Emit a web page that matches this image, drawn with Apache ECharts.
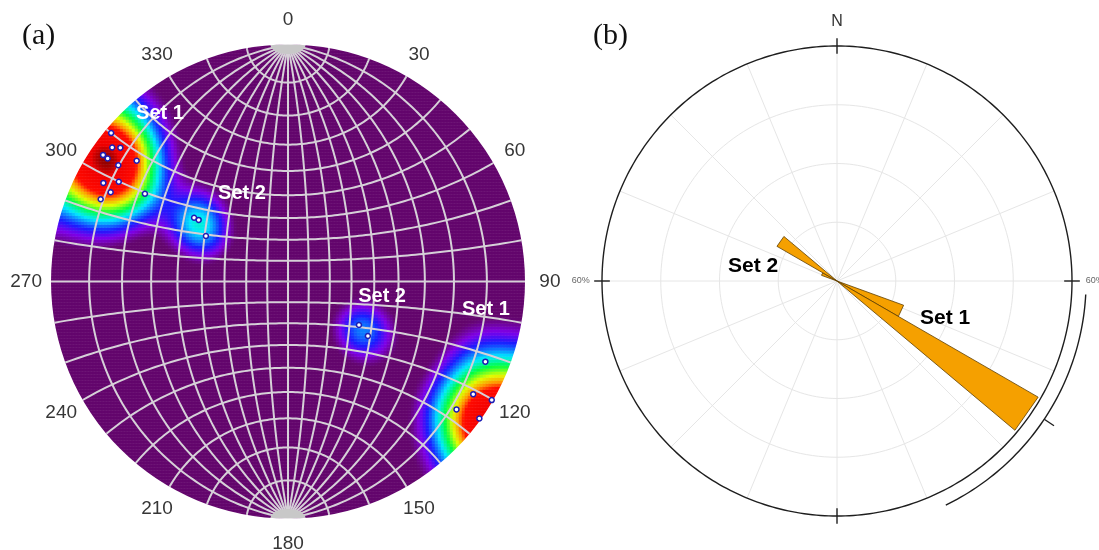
<!DOCTYPE html>
<html><head><meta charset="utf-8">
<script src="https://cdn.jsdelivr.net/npm/echarts@6/dist/echarts.min.js"></script>
<style>html,body{margin:0;padding:0;background:#fff}#c{width:1099px;height:550px}</style>
</head><body><div id="c"></div>
<script>
// ---------- DATA ----------
// (a) poles to joints, [trend, plunge] in degrees (lower hemisphere)
const set1Poles = [[310,1.5],[307.3,4.0],[308.6,5.7],[304.4,3.2],[304.3,4.7],[304.4,8.1],[308.6,11.5],[298.1,7.1],[300.5,10.7],[296.7,10.1],[293.7,8.4],[301.5,19.4],
                   [112.1,6.1],[121.3,5.1],[120.2,0.3],[127.2,6.5],[125.6,0.4]];
const set2Poles = [[304.2,38.8],[304.6,40.8],[299.0,46.8],[121.5,51.3],[124.3,45.6]];
const netTickLabels = ['0','30','60','90','120','150','180','210','240','270','300','330'];
const netTickAngles = [0,30,60,90,120,150,180,210,240,270,300,330];
const netSetLabels = ['Set 1','Set 2','Set 2','Set 1'];
// (b) rose diagram: bin start/end azimuth and percentage
const roseBinStart = [110, 120, 290, 300];
const roseBinEnd   = [120, 130, 300, 310];
const roseValues   = [18.1, 59.3, 4.2, 17.7];
const roseRings = [15, 30, 45];
const roseMax = 60;
const roseScaleLabel = '60%';
const set1Mean = 123.7, set1Spread = 30.6;

// ---------- helpers ----------
const D = Math.PI/180;
function proj(lambda, phi){ // Wulff net, polar axis N-S
  const l=lambda*D, p=phi*D, den=1+Math.cos(p)*Math.cos(l);
  return [Math.cos(p)*Math.sin(l)/den, Math.sin(p)/den];
}
function poleXY(t,p){ const r=Math.tan((90-p)*D/2); return [r*Math.sin(t*D), r*Math.cos(t*D)]; }
function vec(t,p){ const T=t*D,P=p*D; return [Math.cos(P)*Math.sin(T),Math.cos(P)*Math.cos(T),Math.sin(P)]; }

// net lines
const netLines = [];
for (let lam=-80; lam<=80; lam+=10){ const c=[]; for(let ph=-90; ph<=90; ph+=1) c.push(proj(lam,ph)); netLines.push({coords:c}); }
for (let ph=-80; ph<=80; ph+=10){ const c=[]; for(let lam=-90; lam<=90; lam+=1.5) c.push(proj(lam,ph)); netLines.push({coords:c}); }

// density (Fisher kernel, axial) from the poles
const allPoles = set1Poles.concat(set2Poles).map(a=>vec(a[0],a[1]));
const K = 62, N = 158;
const cats = Array.from({length:N},(_,i)=>i);
const heat = [];
let dmax = 0;
for (let i=0;i<N;i++) for (let j=0;j<N;j++){
  const X=-1+(2*i+1)/N, Y=-1+(2*j+1)/N, r2=X*X+Y*Y;
  if (r2>1.05) continue;
  const r=Math.sqrt(r2), phi=2*Math.atan(r), tau=Math.atan2(X,Y);
  const g=[Math.sin(phi)*Math.sin(tau),Math.sin(phi)*Math.cos(tau),Math.cos(phi)];
  let d=0; for (const p of allPoles){ const c=Math.abs(g[0]*p[0]+g[1]*p[1]+g[2]*p[2]); d+=Math.exp(K*(c-1)); }
  if (r2<=1) dmax=Math.max(dmax,d);
  heat.push([i,j,d]);
}
heat.forEach(h=>{ h[2]=Math.min(h[2],dmax); });
const stops = [[0,'#63056c'],[0.3,'#63056c'],[0.75,'#8000e8'],[1.3,'#1a1aff'],[1.9,'#0a8cff'],[2.4,'#00eaff'],
  [Math.max(3.3,0.34*dmax),'#00ff40'],[0.46*dmax,'#e0ff00'],[0.56*dmax,'#ff9a00'],[0.65*dmax,'#ff0a00'],[0.92*dmax,'#f00000'],[dmax,'#900000']];
function hex(c){return [parseInt(c.slice(1,3),16),parseInt(c.slice(3,5),16),parseInt(c.slice(5,7),16)];}
function ramp(n){ const out=[]; for(let k=0;k<n;k++){ const v=dmax*k/(n-1); let s=0; while(s<stops.length-2 && v>stops[s+1][0]) s++;
  const a=hex(stops[s][1]), b=hex(stops[s+1][1]); const t=Math.min(1,Math.max(0,(v-stops[s][0])/(stops[s+1][0]-stops[s][0])));
  out.push('rgb('+a.map((x,q)=>Math.round(x+(b[q]-x)*t)).join(',')+')'); } return out; }

// rose lines
const roseGrid = [];
for (let a=0; a<360; a+=22.5) roseGrid.push({coords:[[0,0],[roseMax*Math.sin(a*D),roseMax*Math.cos(a*D)]]});
for (const rr of roseRings){ const c=[]; for(let a=0;a<=360;a+=2) c.push([rr*Math.sin(a*D),rr*Math.cos(a*D)]); roseGrid.push({coords:c}); }
const roseBlack = [];
{ const c=[]; for(let a=0;a<=360;a+=1) c.push([roseMax*Math.sin(a*D),roseMax*Math.cos(a*D)]); roseBlack.push({coords:c}); }
for (let a=0;a<360;a+=90) roseBlack.push({coords:[[58*Math.sin(a*D),58*Math.cos(a*D)],[62*Math.sin(a*D),62*Math.cos(a*D)]]});
{ const c=[]; const ra=63.6; for(let a=set1Mean-set1Spread;a<=set1Mean+set1Spread+0.01;a+=1) c.push([ra*Math.sin(a*D),ra*Math.cos(a*D)]); roseBlack.push({coords:c});
  roseBlack.push({coords:[[63.6*Math.sin(set1Mean*D),63.6*Math.cos(set1Mean*D)],[66.6*Math.sin(set1Mean*D),66.6*Math.cos(set1Mean*D)]]}); }

const labelFont = '"Liberation Sans", Arial, sans-serif';
function textSeries(xi, items, z){
  return {type:'custom', xAxisIndex:xi, yAxisIndex:xi, z:z, silent:true, clip:false,
    data:items.map(it=>[it[0],it[1]]),
    renderItem:(p,api)=>{ const it=items[p.dataIndex]; const c=api.coord([api.value(0),api.value(1)]);
      return {type:'text', x:c[0], y:c[1], style:{text:it[2], fill:it[3], font:it[4], align:'center', verticalAlign:'middle', textAlign:'center', textVerticalAlign:'middle'}}; }};
}
const tickItems = netTickAngles.map((a,k)=>[1.105*Math.sin(a*D),1.105*Math.cos(a*D),netTickLabels[k],'#363636','19px '+labelFont]);
const setPosA = [[-0.540,0.707],[-0.194,0.373],[0.397,-0.065],[0.835,-0.118]];
const setItemsA = setPosA.map((p,k)=>[p[0],p[1],netSetLabels[k],'#ffffff','bold 20px '+labelFont]);
const roseItems = [[0,66.2,'N','#333333','16px '+labelFont],
  [27.6,-9.45,'Set 1','#000000','bold 21px '+labelFont],
  [-21.4,3.83,'Set 2','#000000','bold 21px '+labelFont],
  [-65.4,0,roseScaleLabel,'#666666','9px '+labelFont],
  [65.8,0,roseScaleLabel,'#666666','9px '+labelFont]];

const chart = echarts.init(document.getElementById('c'), null, {renderer:'canvas'});
chart.setOption({
  animation:false,
  backgroundColor:'#fff',
  grid:[
    {left:51, top:44.5, width:474, height:474},
    {left:51, top:44.5, width:474, height:474},
    {left:602, top:46, width:470, height:470}
  ],
  xAxis:[
    {type:'category', data:cats, gridIndex:0, show:false},
    {type:'value', min:-1, max:1, gridIndex:1, show:false},
    {type:'value', min:-60, max:60, gridIndex:2, show:false}
  ],
  yAxis:[
    {type:'category', data:cats, gridIndex:0, show:false},
    {type:'value', min:-1, max:1, gridIndex:1, show:false},
    {type:'value', min:-60, max:60, gridIndex:2, show:false}
  ],
  visualMap:{type:'continuous', min:0, max:dmax, seriesIndex:0, show:false, inRange:{color:ramp(160)}},
  graphic:[
    {type:'text', left:22, top:21, style:{text:'(a)', font:'30px "Liberation Serif", "Times New Roman", serif', fill:'#111'}},
    {type:'text', left:593, top:21, style:{text:'(b)', font:'30px "Liberation Serif", "Times New Roman", serif', fill:'#111'}}
  ],
  series:[
    {type:'heatmap', xAxisIndex:0, yAxisIndex:0, data:heat, z:1, silent:true, progressive:0, itemStyle:{borderWidth:0}},
    {type:'lines', coordinateSystem:'cartesian2d', xAxisIndex:1, yAxisIndex:1, polyline:true, z:2, silent:true, clip:false,
      lineStyle:{color:'#d6d0d8', width:2, opacity:1}, data:netLines},
    {type:'custom', xAxisIndex:1, yAxisIndex:1, z:3, silent:true, clip:false, data:[[0,1],[0,-1]],
      renderItem:(p,api)=>{ const y0=api.value(1); const pts=[]; for(let a=0;a<=180;a+=6){ pts.push(api.coord([0.074*Math.cos(a*D), y0-Math.sign(y0)*0.04*Math.sin(a*D)])); }
        return {type:'polygon', shape:{points:pts}, style:{fill:'#c8c8c8'}}; }},
    {type:'custom', xAxisIndex:1, yAxisIndex:1, z:4, silent:true, clip:false, data:[[0,0]],
      renderItem:(p,api)=>{ const c=api.coord([0,0]), e=api.coord([1,0]); const r=e[0]-c[0];
        return {type:'ring', shape:{cx:c[0],cy:c[1],r:r+16,r0:r}, style:{fill:'#ffffff'}}; }},
    {type:'scatter', xAxisIndex:1, yAxisIndex:1, z:5, silent:true, symbol:'circle', symbolSize:5,
      itemStyle:{color:'#ffffff', borderColor:'#1c1cb4', borderWidth:1.5, opacity:1},
      data:set1Poles.concat(set2Poles).map(a=>poleXY(a[0],a[1]))},
    textSeries(1, tickItems, 6),
    textSeries(1, setItemsA, 6),
    // rose
    {type:'lines', coordinateSystem:'cartesian2d', xAxisIndex:2, yAxisIndex:2, polyline:true, z:2, silent:true, clip:false,
      lineStyle:{color:'#e6e6e6', width:1, opacity:1}, data:roseGrid},
    {type:'custom', xAxisIndex:2, yAxisIndex:2, z:3, silent:true, clip:false,
      data:roseValues.map((v,k)=>[roseBinStart[k], roseBinEnd[k], v]),
      renderItem:(p,api)=>{ const a1=api.value(0)*D, a2=api.value(1)*D, v=api.value(2);
        const pts=[api.coord([0,0]), api.coord([v*Math.sin(a1),v*Math.cos(a1)]), api.coord([v*Math.sin(a2),v*Math.cos(a2)])];
        return {type:'polygon', shape:{points:pts}, style:{fill:'#f5a000', stroke:'#5e3e00', lineWidth:0.8}}; }},
    {type:'lines', coordinateSystem:'cartesian2d', xAxisIndex:2, yAxisIndex:2, polyline:true, z:4, silent:true, clip:false,
      lineStyle:{color:'#1e1e1e', width:1.4, opacity:1}, data:roseBlack},
    textSeries(2, roseItems, 6)
  ]
});
</script></body></html>
